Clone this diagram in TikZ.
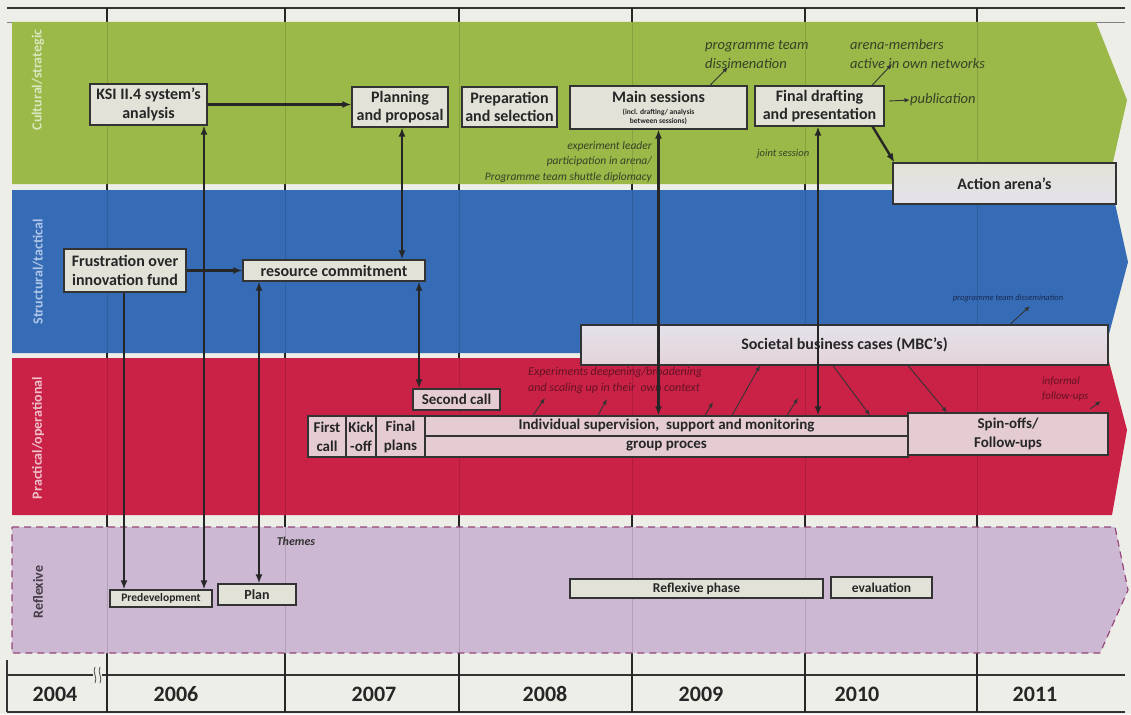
\documentclass[tikz,border=0pt]{standalone}
\usepackage{fontspec}
\setmainfont{Carlito}
\usetikzlibrary{arrows.meta,calc}
\definecolor{bg}{RGB}{238,238,232}
\definecolor{cgreen}{RGB}{154,185,72}
\definecolor{cblue}{RGB}{54,108,182}
\definecolor{cred}{RGB}{202,34,70}
\definecolor{cpurple}{RGB}{204,184,210}
\definecolor{cdash}{RGB}{150,70,120}
\definecolor{boxgray}{RGB}{226,226,216}
\definecolor{boxpink}{RGB}{228,204,210}
\definecolor{socfill}{RGB}{228,226,234}
\definecolor{notegreen}{RGB}{55,65,40}
\definecolor{notered}{RGB}{100,18,38}
\definecolor{noteblue}{RGB}{25,40,80}
\definecolor{lblgreen}{RGB}{218,230,190}
\definecolor{lblblue}{RGB}{175,198,232}
\definecolor{lblred}{RGB}{240,192,202}
\definecolor{lblpurple}{RGB}{70,60,72}
\begin{document}
\begin{tikzpicture}[x=1pt,y=-1pt,
  box/.style={draw=black!80, line width=1.2pt, fill=boxgray, align=center, inner sep=0pt, font=\fontsize{16}{18.5}\selectfont\bfseries, text=black!85},
  pbox/.style={box, fill=boxpink, font=\fontsize{15}{19}\selectfont\bfseries},
  smbox/.style={box, font=\fontsize{13.5}{16}\selectfont\bfseries},
  note/.style={font=\fontsize{14.5}{19}\selectfont\itshape, text=notegreen, inner sep=0pt, align=left},
  arr/.style={-{Latex[length=9pt,width=7pt]}, line width=2.4pt, draw=black!85},
  darr/.style={{Latex[length=9pt,width=7pt]}-{Latex[length=9pt,width=7pt]}, line width=2.4pt, draw=black!85},
  tarr/.style={-{Latex[length=5.5pt,width=4.5pt]}, line width=0.9pt, draw=black!80},
  bandlabel/.style={rotate=90, font=\fontsize{14}{16}\selectfont\bfseries},
  yearlbl/.style={font=\fontsize{22}{26}\selectfont\bfseries, text=black!85},
]
\fill[bg] (0,0) rectangle (1131,714);
\useasboundingbox (0,0) rectangle (1131,714);

% table frame
\draw[line width=1.3pt, black!80] (7,8) -- (1125,8);
\draw[line width=0.8pt, black!50] (7,22) -- (1125,22);
\draw[line width=1.3pt, black!80] (7,675) -- (1125,675) (7,712) -- (1125,712) (7,660) -- (7,712);
\foreach \x in {107,285,459,632,805,977} \draw[line width=1.5pt, black!85] (\x,8) -- (\x,712);

% bands
\fill[cgreen] (12,22) -- (1096,22) -- (1127,100) -- (1108,184) -- (12,184) -- cycle;
\fill[cblue] (12,190) -- (1112,190) -- (1128,262) -- (1104,353) -- (12,353) -- cycle;
\fill[cred] (12,358) -- (1108,358) -- (1127,430) -- (1112,515) -- (12,515) -- cycle;
\fill[cpurple] (12,527) -- (1115,527) -- (1128,590) -- (1100,653) -- (12,653) -- cycle;
\draw[cdash, line width=1.2pt, dash pattern=on 7pt off 5pt] (12,527) -- (1115,527) -- (1128,590) -- (1100,653) -- (12,653) -- cycle;
\foreach \x in {107,285,459,632,805,977} \draw[line width=0.8pt, black, opacity=0.13] (\x,22) -- (\x,653);

% break mark
\fill[bg] (93,668) rectangle (102,682);
\draw[line width=0.8pt, black!70] (95,667) .. controls (92,672) and (98,678) .. (95,683);
\draw[line width=0.8pt, black!70] (100,667) .. controls (97,672) and (103,678) .. (100,683);

% band labels
\node[bandlabel, text=lblgreen] (lcult) at (38,80) {Cultural/strategic};
\node[bandlabel, text=lblblue] (lstruct) at (38,272) {Structural/tactical};
\node[bandlabel, text=lblred] (lpract) at (38,438) {Practical/operational};
\node[bandlabel, text=lblpurple] (lrefl) at (38,592) {Reflexive};

% years
\node[yearlbl] (y2004) at (55,694) {2004};
\node[yearlbl] (y2006) at (176,694) {2006};
\node[yearlbl] (y2007) at (374,694) {2007};
\node[yearlbl] (y2008) at (545,694) {2008};
\node[yearlbl] (y2009) at (701,694) {2009};
\node[yearlbl] (y2010) at (857,694) {2010};
\node[yearlbl] (y2011) at (1035,694) {2011};

% cultural boxes
\node[box, minimum width=117, minimum height=41] (ksi) at (148.5,104.5) {KSI II.4 system’s\\analysis};
\node[box, minimum width=96, minimum height=40] (planprop) at (400,107) {Planning\\and proposal};
\node[box, minimum width=95, minimum height=40] (prepsel) at (509.5,107) {Preparation\\and selection};
\node[box, font=\fontsize{7.5}{8.5}\selectfont\bfseries, minimum width=177, minimum height=43] (mainsess) at (658.5,107.5) {{\fontsize{16}{18}\selectfont Main sessions}\\[4pt](incl. drafting/ analysis\\between sessions)};
\node[box, minimum width=129, minimum height=40] (finaldraft) at (819.5,106) {Final drafting\\and presentation};
\node[box, top color=boxgray, bottom color=socfill, minimum width=223, minimum height=41] (actarena) at (1004.5,183.5) {Action arena’s};

% notes in green band
\node[note, anchor=north west] (ptd) at (705,40) {programme team\\dissimenation};
\node[note, anchor=north west] (arm) at (850,39) {arena-members\\active in own networks};
\node[note, anchor=west] (pubtxt) at (910,100) {publication};
\node[note, anchor=north east, align=right, font=\fontsize{11.5}{15.5}\selectfont\itshape] (expl) at (652,141) {experiment leader\\participation in arena/\\Programme team shuttle diplomacy};
\node[note, anchor=west, font=\fontsize{10.5}{12}\selectfont\itshape] (joint) at (757,154) {joint session};

% structural boxes
\node[box, minimum width=122, minimum height=43] (frust) at (125,270.5) {Frustration over\\innovation fund};
\node[box, minimum width=182, minimum height=21] (rescom) at (334,270.5) {resource commitment};
\node[note, font=\fontsize{8.5}{10}\selectfont\itshape, text=noteblue] (ptd2) at (1008,298) {programme team dissemination};
\node[box, top color=socfill, bottom color=boxpink!70!socfill, minimum width=527, minimum height=40] (socbc) at (844.5,345) {Societal business cases (MBC’s)};

% practical boxes
\node[pbox, minimum width=87, minimum height=21] (secondcall) at (456.5,399.5) {Second call};
\node[pbox, minimum width=38, minimum height=41] (firstcall) at (327,436.5) {First\\call};
\node[pbox, minimum width=30, minimum height=41] (kickoff) at (361,436.5) {Kick\\-off};
\node[pbox, minimum width=49, minimum height=41] (finalplans) at (400.5,436.5) {Final\\plans};
\node[pbox, minimum width=483, minimum height=20] (indiv) at (666.5,426) {Individual supervision,\ \ support and monitoring};
\node[pbox, minimum width=483, minimum height=21] (groupp) at (666.5,446.5) {group proces};
\node[pbox, minimum width=200, minimum height=42] (spinoffs) at (1008,434) {Spin-offs/\\Follow-ups};
\node[note, anchor=north west, text=notered, font=\fontsize{12}{16}\selectfont\itshape] (expdeep) at (528,367) {Experiments deepening/broadening\\and scaling up in their\ \ own context};
\node[note, anchor=north west, text=notered, font=\fontsize{11}{15}\selectfont\itshape] (informal) at (1042,377) {informal\\follow-ups};

% reflexive boxes
\node[note, text=black!80, font=\fontsize{12}{14}\selectfont\bfseries\itshape] (themes) at (296,541) {Themes};
\node[smbox, font=\fontsize{11.5}{13}\selectfont\bfseries, minimum width=102, minimum height=17] (predev) at (161,598.5) {Predevelopment};
\node[smbox, font=\fontsize{14}{16}\selectfont\bfseries, minimum width=78, minimum height=21] (planbox) at (257,594.5) {Plan};
\node[smbox, minimum width=253, minimum height=19] (reflphase) at (696.5,588.5) {Reflexive phase};
\node[smbox, minimum width=101, minimum height=21] (evalbox) at (881.5,587.5) {evaluation};

% coordinates for free ends
\coordinate (c1) at (728,67);
\coordinate (c2) at (892,64);
\coordinate (c3) at (889,101);
\coordinate (c4) at (1030,306);
\coordinate (r1) at (545,398);
\coordinate (r2) at (607,399);
\coordinate (r3) at (713,402);
\coordinate (r5) at (798,398);
\coordinate (r6a) at (1090,409);
\coordinate (r6b) at (1101,401);

% thick connectors
\draw[arr] (ksi.east) -- (ksi.east -| planprop.west);
\draw[arr] (frust.east) -- (rescom.west);
\draw[darr] ([xshift=2pt]planprop.south) -- ([xshift=2pt]planprop.south |- rescom.north);
\draw[darr] ([xshift=55.5pt]ksi.south) -- ([xshift=55.5pt]ksi.south |- predev.north);
\draw[arr] ([xshift=-1pt]frust.south) -- ([xshift=-1pt]frust.south |- predev.north);
\draw[darr] ([xshift=-75pt]rescom.south) -- ([xshift=-75pt]rescom.south |- planbox.north);
\draw[darr] ([xshift=85pt]rescom.south) -- ([xshift=85pt]rescom.south |- secondcall.north);
\draw[darr] (mainsess.south) -- (mainsess.south |- indiv.north);
\draw[darr] ([xshift=-1.5pt]finaldraft.south) -- ([xshift=-1.5pt]finaldraft.south |- indiv.north);
\draw[arr] ([xshift=-12pt]finaldraft.south east) -- ([xshift=2pt]actarena.north west);

% thin connectors
\draw[tarr] ([xshift=51.5pt]mainsess.north) -- (c1);
\draw[tarr] ([xshift=52.5pt]finaldraft.north) -- (c2);
\draw[tarr] (c3) -- (pubtxt.west);
\draw[tarr] ([xshift=165.5pt]socbc.north) -- (c4);
\draw[tarr] ([xshift=-133.5pt]indiv.north) -- (r1);
\draw[tarr] ([xshift=-68.5pt]indiv.north) -- (r2);
\draw[tarr] ([xshift=38.5pt]indiv.north) -- (r3);
\draw[tarr] ([xshift=65.5pt]indiv.north) -- ([xshift=-84.5pt]socbc.south);
\draw[tarr] ([xshift=120.5pt]indiv.north) -- (r5);
\draw[tarr] ([xshift=-11.5pt]socbc.south) -- ([xshift=203.5pt]indiv.north);
\draw[tarr] ([xshift=63.5pt]socbc.south) -- ([xshift=-61pt]spinoffs.north);
\draw[tarr] (r6a) -- (r6b);
\end{tikzpicture}
\end{document}
